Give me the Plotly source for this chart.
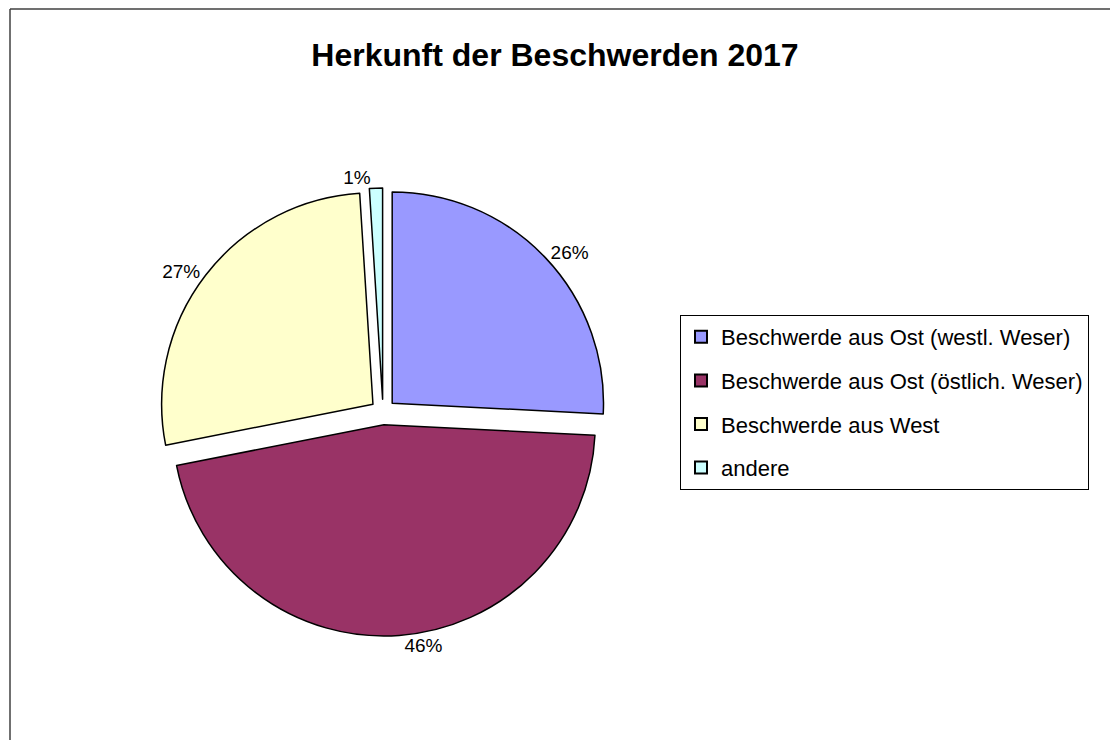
import plotly.graph_objects as go

labels = ["Beschwerde aus Ost (westl. Weser)", "Beschwerde aus Ost (östlich. Weser)",
          "Beschwerde aus West", "andere"]
values = [25.8, 46.1, 27.1, 1.0]
colors = ["#9999FF", "#993366", "#FFFFCC", "#CCFFFF"]

W, H = 1110, 740
FONT = "Liberation Sans, Arial, sans-serif"

fig = go.Figure()
fig.add_trace(go.Pie(
    labels=labels, values=values, sort=False, direction="clockwise", rotation=0,
    marker=dict(colors=colors, line=dict(color="black", width=1.5)),
    pull=[0.06] * len(values),
    texttemplate="%{percent:.0%}", textposition="outside",
    textfont=dict(family=FONT, size=19, color="black"),
    showlegend=False, hoverinfo="label+percent",
    domain=dict(x=[159 / W, 607 / W], y=[1 - 638 / H, 1 - 186 / H]),
))
for lab, col in zip(labels, colors):
    fig.add_trace(go.Scatter(
        x=[None], y=[None], mode="markers", name=lab, legendgroup=lab,
        marker=dict(symbol="square", size=11, color=col, line=dict(color="black", width=1.5)),
    ))

fig.update_layout(
    width=W, height=H, margin=dict(l=0, r=0, t=0, b=0),
    paper_bgcolor="white", plot_bgcolor="white",
    font=dict(family=FONT, color="black"),
    title=dict(text="<b>Herkunft der Beschwerden 2017</b>", x=0.5, xanchor="center",
               y=1 - 55 / H, yanchor="middle", font=dict(size=32, family=FONT, color="black")),
    xaxis=dict(visible=False), yaxis=dict(visible=False),
    legend=dict(x=680 / W, y=1 - 315 / H, xanchor="left", yanchor="top",
                bordercolor="black", borderwidth=1, bgcolor="white",
                font=dict(size=22, family=FONT, color="black"),
                tracegroupgap=12, itemsizing="constant", itemwidth=30),
    shapes=[
        dict(type="line", xref="paper", yref="paper", x0=10 / W, x1=1.05, y0=1 - 9 / H, y1=1 - 9 / H,
             line=dict(color="#404040", width=1.5)),
        dict(type="line", xref="paper", yref="paper", x0=10 / W, x1=10 / W, y0=1 - 9 / H, y1=-0.05,
             line=dict(color="#404040", width=1.5)),
    ],
)
fig.write_html("out.html")
